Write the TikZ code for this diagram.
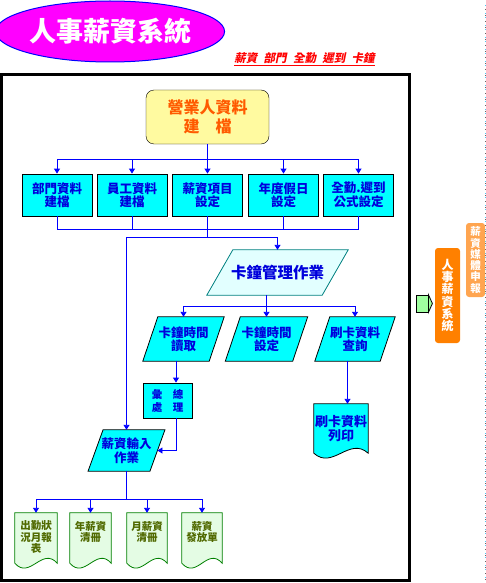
\documentclass[tikz,border=0pt]{standalone}
\usepackage{fontspec}
\setmainfont{Noto Sans CJK TC}
\newfontfamily\cjksl{Noto Sans CJK TC}[FakeSlant=0.2]
\usetikzlibrary{arrows.meta,shapes.geometric,backgrounds}
\definecolor{lnblue}{RGB}{0,0,255}
\definecolor{cyanf}{RGB}{0,255,255}
\definecolor{txtblue}{RGB}{0,0,220}
\definecolor{yelf}{RGB}{255,250,160}
\definecolor{orgtxt}{RGB}{255,90,0}
\definecolor{teal1}{RGB}{0,128,128}
\definecolor{lcyan}{RGB}{226,255,255}
\definecolor{docgreen}{RGB}{0,128,0}
\definecolor{docfill}{RGB}{228,252,228}
\definecolor{doctxt}{RGB}{80,105,0}
\definecolor{orange1}{RGB}{255,128,0}
\definecolor{orange2}{RGB}{255,165,80}
\definecolor{arrgreen}{RGB}{160,255,160}
\definecolor{magf}{RGB}{255,0,255}
\newcommand\fs[2]{\fontsize{#1}{#2}\selectfont}
\newcommand\parashape[3]{\begin{scope}[on background layer]\draw[#3] ([xshift=#2pt]#1.north west) -- ([xshift=#2pt]#1.north east) -- ([xshift=-#2pt]#1.south east) -- ([xshift=-#2pt]#1.south west) -- cycle;\end{scope}}
\newcommand\docshape[3]{\begin{scope}[on background layer]\draw[#2] (#1.north west) -- (#1.north east) -- (#1.south east) .. controls +(-#3pt,17pt) and +(#3pt,-17pt) .. (#1.south west) -- cycle;\end{scope}}
\tikzset{
  conn/.style={draw=lnblue, line width=0.9pt},
  arr/.style={conn, -{Triangle[width=6pt,length=5pt]}},
  hold/.style={inner sep=0pt, align=center},
  boxc/.style={hold, draw=black, fill=cyanf, line width=0.8pt, minimum width=70pt, minimum height=42pt, text=txtblue, font=\bfseries\fs{12.5}{13.5}},
  parat/.style={hold, text=txtblue, font=\bfseries\fs{12.5}{13.5}, minimum height=44pt},
  docn/.style={hold, minimum height=50pt},
  gtext/.style={hold, anchor=north, text=doctxt, font=\bfseries\fs{10.5}{11.2}},
}
\begin{document}
\begin{tikzpicture}[x=1pt,y=-1pt]
\useasboundingbox (0,0) rectangle (486,583);
\begin{scope}[on background layer]
  \draw[line width=3pt, fill=white] (1.5,75) rectangle (409.5,580.5);
\end{scope}
% title
\node[ellipse, draw=lnblue, fill=magf, line width=1pt, minimum width=208pt, minimum height=61pt, inner sep=0pt, text=white, font=\bfseries\fs{27}{30}] (title) at (110,31.5) {人事薪資系統};
\node[text=red, font=\cjksl\bfseries\fs{11.5}{12}, inner sep=0pt] (sub) at (304.5,59) {\underline{薪資\hspace{0.55em}部門\hspace{0.55em}全勤\hspace{0.55em}遲到\hspace{0.55em}卡鐘}};
% dotted right edge
\draw[cyan!70, line width=0.8pt, dash pattern=on 1pt off 3pt] (485,5) -- (485,580);
\draw[black!60, line width=0.8pt, dash pattern=on 1pt off 5pt, dash phase=2pt] (485,5) -- (485,580);
% top node
\node[hold, draw=black, fill=yelf, rounded corners=8pt, minimum width=123pt, minimum height=54pt, text=orgtxt, font=\bfseries\fs{16}{18.5}] (T) at (207.5,117) {營業人資料\\建\hspace{1em}檔};
% five boxes
\node[boxc] (B1) at (57,195) {部門資料\\建檔};
\node[boxc] (B2) at (132,195) {員工資料\\建檔};
\node[boxc] (B3) at (207.5,195) {薪資項目\\設定};
\node[boxc] (B4) at (283.5,195) {年度假日\\設定};
\node[boxc] (B5) at (358.5,195) {全勤.遲到\\公式設定};
\coordinate (bar1) at (0,159);
\coordinate (bar2) at (0,229);
\coordinate (bar3) at (0,237);
\coordinate (bar4) at (0,306);
\coordinate (bar5) at (0,499);
% card clock main
\node[hold, text=txtblue, font=\bfseries\fs{15.5}{17}, minimum width=115pt, minimum height=45pt] (K) at (277.5,272.5) {卡鐘管理作業};
\parashape{K}{13}{draw=teal1, fill=lcyan, line width=0.8pt}
% three parallelograms
\node[parat, minimum width=66pt] (P1) at (183.5,339) {卡鐘時間\\讀取};
\parashape{P1}{7.5}{draw=black, fill=cyanf, line width=0.8pt}
\node[parat, minimum width=67pt] (P2) at (266.5,339) {卡鐘時間\\設定};
\parashape{P2}{7.5}{draw=black, fill=cyanf, line width=0.8pt}
\node[parat, minimum width=65pt] (P3) at (355,339) {刷卡資料\\查詢};
\parashape{P3}{7.5}{draw=black, fill=cyanf, line width=0.8pt}
% summary box
\node[hold, draw=black, fill=cyanf, line width=0.8pt, minimum width=49pt, minimum height=35pt, text=txtblue, font=\bfseries\fs{10.5}{13}] (H) at (167.5,400.5) {彙\hspace{1em}總\\處\hspace{1em}理};
% salary input
\node[parat, minimum width=61.5pt, minimum height=41pt] (S) at (126.5,450.5) {薪資輸入\\作業};
\parashape{S}{7.5}{draw=black, fill=cyanf, line width=0.8pt}
% card print doc
\node[docn, minimum width=54pt, minimum height=49pt, text=txtblue, font=\bfseries\fs{13}{13.5}] (D) at (341,428.5) {刷卡資料\\列印};
\docshape{D}{draw=black, fill=cyanf, line width=0.8pt}{19}
% green docs
\node[docn, minimum width=42pt] (G1) at (36,538) {};
\node[docn, minimum width=41pt] (G2) at (90.5,538) {};
\node[docn, minimum width=40pt] (G3) at (147,538) {};
\node[docn, minimum width=40pt] (G4) at (202,538) {};
\docshape{G1}{draw=docgreen, fill=docfill, line width=0.8pt}{15}
\docshape{G2}{draw=docgreen, fill=docfill, line width=0.8pt}{15}
\docshape{G3}{draw=docgreen, fill=docfill, line width=0.8pt}{15}
\docshape{G4}{draw=docgreen, fill=docfill, line width=0.8pt}{15}
\node[gtext] (g1t) at ([yshift=-8pt]G1.north) {出勤狀\\況月報\\表};
\node[gtext] (g2t) at ([yshift=-8pt]G2.north) {年薪資\\清冊};
\node[gtext] (g3t) at ([yshift=-8pt]G3.north) {月薪資\\清冊};
\node[gtext] (g4t) at ([yshift=-8pt]G4.north) {薪資\\發放單};
% connectors
\draw[conn] (T.south) -- (T.south|-bar1);
\draw[conn] (B1.north|-bar1) -- (B5.north|-bar1);
\foreach \b in {B1,B2,B3,B4,B5} {
  \draw[arr] (\b.north|-bar1) -- (\b.north);
  \draw[conn] (\b.south) -- (\b.south|-bar2);
}
\draw[conn] (B1.south|-bar2) -- (B5.south|-bar2);
\draw[conn] (B3.south|-bar2) -- (B3.south|-bar3);
\draw[conn] (S.center|-bar3) -- (K.north|-bar3);
\draw[arr] (K.north|-bar3) -- (K.north);
\draw[arr] (S.center|-bar3) -- (S.north);
\draw[conn] (P2.north|-K.south) -- (P2.north|-bar4);
\draw[conn] (P1.north|-bar4) -- (P3.north|-bar4);
\foreach \p in {P1,P2,P3} \draw[arr] (\p.north|-bar4) -- (\p.north);
\draw[arr] ([xshift=-7.5pt]P1.south) -- ([xshift=-7.5pt]P1.south|-H.north);
\draw[arr] ([xshift=8.5pt]H.south) |- (S.east);
\draw[arr] ([xshift=-7.5pt]P3.south) -- ([xshift=-7.5pt]P3.south|-D.north);
\draw[conn] (S.south) -- (S.south|-bar5);
\draw[conn] (G1.north|-bar5) -- (G4.north|-bar5);
\foreach \g in {G1,G2,G3,G4} \draw[arr] (\g.north|-bar5) -- (\g.north);
% right side
\node[draw=black, fill=arrgreen, line width=0.8pt, inner sep=0pt, minimum width=12pt, minimum height=17pt] (ga) at (422,303.5) {};
\draw[draw=black, fill=arrgreen, line width=0.8pt] (ga.north east) -- ([xshift=4pt]ga.east) -- (ga.south east) -- cycle;
\node[hold, fill=orange1, rounded corners=3pt, minimum width=25pt, minimum height=95pt, text=white, font=\bfseries\fs{12}{12.3}] (sys) at (447.5,295.5) {人\\事\\薪\\資\\系\\統};
\node[hold, fill=orange2, rounded corners=3pt, minimum width=19pt, minimum height=74pt, text=white, font=\bfseries\fs{10.5}{11.3}] (media) at (475.5,260) {薪\\資\\媒\\體\\申\\報};
\end{tikzpicture}
\end{document}
